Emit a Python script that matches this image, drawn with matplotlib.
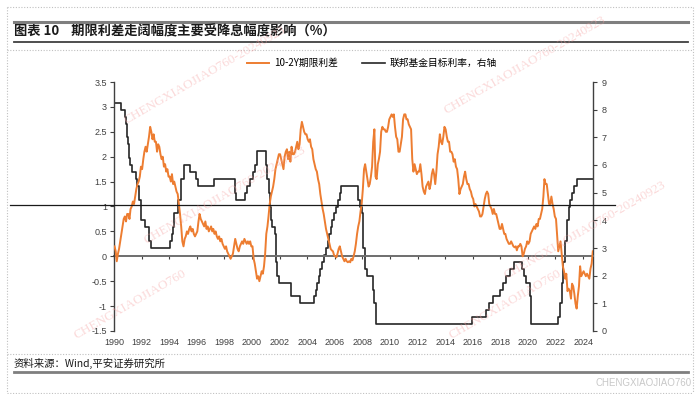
import matplotlib
matplotlib.use("Agg")
import matplotlib.pyplot as plt
from matplotlib.lines import Line2D
import numpy as np
import pandas as pd

plt.rcParams['font.family'] = ['Noto Sans CJK SC', 'DejaVu Sans']

# 10-2Y spread, monthly, Jan 1990 .. Sep 2024
spread = [
    0.20, 0.10, -0.10, 0.05, 0.15, 0.30, 0.45, 0.60, 0.75, 0.80, 0.70, 0.85,   # 1990
    0.85, 0.75, 0.95, 1.00, 1.10, 1.05, 1.20, 1.35, 1.45, 1.50, 1.60, 1.80,   # 1991
    1.75, 1.95, 2.10, 2.20, 2.10, 2.25, 2.40, 2.60, 2.50, 2.35, 2.45, 2.30,   # 1992
    2.30, 2.10, 2.25, 2.20, 2.05, 1.95, 2.00, 1.80, 1.85, 1.70, 1.75, 1.60,   # 1993
    1.60, 1.50, 1.65, 1.45, 1.50, 1.40, 1.30, 1.25, 1.05, 0.85, 0.60, 0.30,   # 1994
    0.20, 0.35, 0.40, 0.50, 0.45, 0.55, 0.60, 0.50, 0.55, 0.45, 0.40, 0.45,   # 1995
    0.50, 0.70, 0.85, 0.75, 0.70, 0.65, 0.60, 0.70, 0.55, 0.60, 0.50, 0.55,   # 1996
    0.60, 0.50, 0.55, 0.45, 0.50, 0.40, 0.35, 0.40, 0.30, 0.35, 0.25, 0.20,   # 1997
    0.15, 0.20, 0.10, 0.05, 0.00, -0.05, 0.00, 0.05, 0.20, 0.35, 0.25, 0.15,  # 1998
    0.10, 0.20, 0.25, 0.30, 0.25, 0.35, 0.30, 0.25, 0.30, 0.25, 0.30, 0.20,   # 1999
    0.20, -0.05, -0.15, -0.30, -0.45, -0.40, -0.50, -0.40, -0.30, -0.35, -0.20, 0.05,  # 2000
    0.45, 0.60, 0.80, 1.05, 1.20, 1.30, 1.40, 1.55, 1.75, 1.85, 1.95, 2.05,   # 2001
    2.05, 1.95, 1.85, 1.75, 2.00, 2.10, 2.15, 1.95, 2.10, 1.90, 2.20, 2.05,   # 2002
    2.05, 2.10, 2.20, 2.30, 2.15, 2.25, 2.55, 2.70, 2.60, 2.50, 2.45, 2.45,   # 2003
    2.35, 2.30, 2.35, 2.20, 2.15, 1.95, 1.85, 1.75, 1.70, 1.55, 1.45, 1.25,   # 2004
    1.10, 0.95, 0.85, 0.70, 0.55, 0.45, 0.35, 0.25, 0.15, 0.12, 0.10, 0.02,   # 2005
    0.00, -0.02, 0.05, 0.15, 0.20, 0.10, 0.00, -0.05, -0.10, -0.05, -0.10, -0.12,  # 2006
    -0.10, -0.12, -0.05, -0.08, 0.00, 0.10, 0.25, 0.45, 0.60, 0.70, 0.90, 1.05,  # 2007
    1.35, 1.75, 1.85, 1.70, 1.55, 1.40, 1.45, 1.60, 1.80, 2.30, 2.55, 1.60,   # 2008
    1.55, 1.85, 1.95, 2.10, 2.50, 2.60, 2.55, 2.55, 2.50, 2.50, 2.60, 2.75,   # 2009
    2.80, 2.85, 2.80, 2.85, 2.60, 2.40, 2.35, 2.10, 2.10, 2.25, 2.40, 2.75,   # 2010
    2.85, 2.85, 2.75, 2.75, 2.65, 2.60, 2.55, 1.95, 1.70, 1.85, 1.75, 1.65,   # 2011
    1.70, 1.70, 1.85, 1.65, 1.40, 1.30, 1.25, 1.40, 1.45, 1.50, 1.35, 1.45,   # 2012
    1.65, 1.75, 1.65, 1.45, 1.70, 2.05, 2.20, 2.45, 2.30, 2.25, 2.40, 2.60,   # 2013
    2.55, 2.40, 2.30, 2.30, 2.10, 2.10, 2.05, 1.90, 1.95, 1.80, 1.75, 1.55,   # 2014
    1.25, 1.35, 1.40, 1.45, 1.60, 1.70, 1.55, 1.45, 1.45, 1.35, 1.30, 1.20,   # 2015
    1.15, 1.00, 1.05, 1.00, 0.95, 0.90, 0.80, 0.80, 0.85, 1.00, 1.15, 1.25,   # 2016
    1.30, 1.25, 1.05, 1.00, 0.95, 0.85, 0.95, 0.85, 0.85, 0.75, 0.65, 0.55,   # 2017
    0.55, 0.65, 0.55, 0.45, 0.45, 0.35, 0.30, 0.25, 0.25, 0.30, 0.25, 0.20,   # 2018
    0.18, 0.20, 0.12, 0.20, 0.20, 0.25, 0.20, 0.00, 0.05, 0.15, 0.20, 0.30,   # 2019
    0.25, 0.30, 0.45, 0.50, 0.55, 0.60, 0.55, 0.65, 0.60, 0.75, 0.75, 0.85,   # 2020
    0.95, 1.20, 1.55, 1.45, 1.45, 1.25, 1.05, 1.05, 1.20, 1.05, 0.95, 0.80,   # 2021
    0.75, 0.40, 0.10, 0.20, 0.30, 0.05, -0.20, -0.30, -0.45, -0.35, -0.70, -0.65,  # 2022
    -0.70, -0.85, -0.55, -0.60, -0.75, -0.95, -1.05, -0.80, -0.60, -0.20, -0.40, -0.35,  # 2023
    -0.30, -0.35, -0.40, -0.35, -0.40, -0.45, -0.25, -0.15, 0.10,             # 2024
]

# Fed funds target rate (upper bound), change dates and levels
fed_dates = [
    '1990-01-01', '1990-07-13', '1990-10-29', '1990-11-13', '1990-12-07', '1990-12-19',
    '1991-01-09', '1991-02-01', '1991-03-08', '1991-04-30', '1991-08-06', '1991-09-13',
    '1991-10-31', '1991-11-06', '1991-12-06', '1991-12-20', '1992-04-09', '1992-07-02',
    '1992-09-04', '1994-02-04', '1994-03-22', '1994-04-18', '1994-05-17', '1994-08-16',
    '1994-11-15', '1995-02-01', '1995-07-06', '1995-12-19', '1996-01-31', '1997-03-25',
    '1998-09-29', '1998-10-15', '1998-11-17', '1999-06-30', '1999-08-24', '1999-11-16',
    '2000-02-02', '2000-03-21', '2000-05-16', '2001-01-03', '2001-01-31', '2001-03-20',
    '2001-04-18', '2001-05-15', '2001-06-27', '2001-08-21', '2001-09-17', '2001-10-02',
    '2001-11-06', '2001-12-11', '2002-11-06', '2003-06-25', '2004-06-30', '2004-08-10',
    '2004-09-21', '2004-11-10', '2004-12-14', '2005-02-02', '2005-03-22', '2005-05-03',
    '2005-06-30', '2005-08-09', '2005-09-20', '2005-11-01', '2005-12-13', '2006-01-31',
    '2006-03-28', '2006-05-10', '2006-06-29', '2007-09-18', '2007-10-31', '2007-12-11',
    '2008-01-22', '2008-01-30', '2008-03-18', '2008-04-30', '2008-10-08', '2008-10-29',
    '2008-12-16', '2015-12-17', '2016-12-15', '2017-03-16', '2017-06-15', '2017-12-14',
    '2018-03-22', '2018-06-14', '2018-09-27', '2018-12-20', '2019-08-01', '2019-09-19',
    '2019-10-31', '2020-03-04', '2020-03-16', '2022-03-17', '2022-05-05', '2022-06-16',
    '2022-07-28', '2022-09-22', '2022-11-03', '2022-12-15', '2023-02-02', '2023-03-23',
    '2023-05-04', '2023-07-27', '2024-09-18',
]
fed_rate = [
    8.25, 8.0, 7.75, 7.5, 7.25, 7.0,
    6.75, 6.25, 6.0, 5.75, 5.5, 5.25,
    5.0, 4.75, 4.5, 4.0, 3.75, 3.25,
    3.0, 3.25, 3.5, 3.75, 4.25, 4.75,
    5.5, 6.0, 5.75, 5.5, 5.25, 5.5,
    5.25, 5.0, 4.75, 5.0, 5.25, 5.5,
    5.75, 6.0, 6.5, 6.0, 5.5, 5.0,
    4.5, 4.0, 3.75, 3.5, 3.0, 2.5,
    2.0, 1.75, 1.25, 1.0, 1.25, 1.5,
    1.75, 2.0, 2.25, 2.5, 2.75, 3.0,
    3.25, 3.5, 3.75, 4.0, 4.25, 4.5,
    4.75, 5.0, 5.25, 4.75, 4.5, 4.25,
    3.5, 3.0, 2.25, 2.0, 1.5, 1.0,
    0.25, 0.5, 0.75, 1.0, 1.25, 1.5,
    1.75, 2.0, 2.25, 2.5, 2.25, 2.0,
    1.75, 1.25, 0.25, 0.5, 1.0, 1.75,
    2.5, 3.25, 4.0, 4.5, 4.75, 5.0,
    5.25, 5.5, 5.5,
]

year_ticks = list(range(1990, 2025, 2))
left_ticks = [-1.5, -1, -0.5, 0, 0.5, 1, 1.5, 2, 2.5, 3, 3.5]
right_ticks = list(range(0, 10))
ref_level = 1.03  # hand-drawn guide line


def to_year(dates):
    d = pd.to_datetime(pd.Series(dates))
    return (d.dt.year + (d.dt.dayofyear - 1) / 365.25).to_numpy()


spread_x = to_year(pd.date_range('1990-01-01', periods=len(spread), freq='MS') + pd.Timedelta(days=14))
fed_x = to_year(fed_dates)

orange = '#ED7D31'
dark = '#262626'

fig = plt.figure(figsize=(7, 3.94), dpi=100)
ax = fig.add_axes([114 / 700, 1 - 331 / 394, 479 / 700, 249 / 394])
ax2 = ax.twinx()

l1, = ax.plot(spread_x, spread, color=orange, lw=1.4, label='10-2Y期限利差', zorder=3)
l2, = ax2.plot(fed_x, fed_rate, color=dark, lw=1.2, drawstyle='steps-post', label='联邦基金目标利率，右轴', zorder=2)
ax.set_zorder(ax2.get_zorder() + 1)
ax.patch.set_visible(False)

ax.set_xlim(1990, 2024.72)
ax.set_ylim(-1.5, 3.5)
ax2.set_ylim(0, 9)

tick_font = dict(family=['Liberation Sans Narrow', 'Liberation Sans', 'DejaVu Sans'], size=6.5)
ax.set_yticks(left_ticks)
ax.set_yticklabels(['%g' % v for v in left_ticks], **tick_font, color='#404040')
ax2.set_yticks(right_ticks)
ax2.set_yticklabels([str(v) for v in right_ticks], **tick_font, color='#404040')
ax.set_xticks(year_ticks)
ax.set_xticklabels([str(y) for y in year_ticks], **tick_font, color='#404040')
ax.tick_params(axis='x', length=0, pad=5)
ax.tick_params(axis='y', length=3, width=0.8, color='#404040', pad=2)
ax2.tick_params(axis='y', length=3, width=0.8, color='#404040', pad=3)

for a in (ax, ax2):
    a.spines['top'].set_visible(False)
    a.spines['bottom'].set_visible(False)
ax.spines['right'].set_visible(False)
ax.spines['left'].set_color('#404040')
ax2.spines['left'].set_visible(False)
ax2.spines['right'].set_color('#404040')
ax.spines['left'].set_linewidth(1)
ax2.spines['right'].set_linewidth(1)

# zero line with year ticks
zero_pos = (0 - (-1.5)) / 5.0
sec = ax.secondary_xaxis(zero_pos)
sec.set_xticks(year_ticks)
sec.set_xticklabels([])
sec.tick_params(length=2.5, width=0.8, color='#404040', direction='out')
sec.spines['bottom'].set_color('#6e6e6e')
sec.spines['bottom'].set_linewidth(1.4)

# guide line
ax.axhline(ref_level, xmin=(10 - 114) / 479, xmax=(615 - 114) / 479, color='#1a1a1a', lw=0.9, clip_on=False, zorder=4)

ax.legend(handles=[l1, l2], loc='center', bbox_to_anchor=(372 / 700, 1 - 63 / 394),
          bbox_transform=fig.transFigure, ncol=2, frameon=False, fontsize=7,
          handlelength=2.3, columnspacing=2.5, handletextpad=0.5)

# title block and frame lines
fig.text(14 / 700, 1 - 31 / 394, '图表 10    期限利差走阔幅度主要受降息幅度影响（%）',
         fontsize=9.5, fontweight='bold', va='center', ha='left', color='#1a1a1a')
fig.text(14 / 700, 1 - 363 / 394, '资料来源：Wind,平安证券研究所', fontsize=7.5,
         style='italic', va='center', ha='left', color='#1a1a1a')
fig.text(692 / 700, 1 - 383 / 394, 'CHENGXIAOJIAO760', fontsize=7, va='center', ha='right',
         color='#c8c8c8', family=['Liberation Sans Narrow', 'Liberation Sans'])


def hline(y, x0, x1, **kw):
    fig.add_artist(Line2D([x0 / 700, x1 / 700], [1 - y / 394, 1 - y / 394], transform=fig.transFigure, **kw))


def vline(x, y0, y1, **kw):
    fig.add_artist(Line2D([x / 700, x / 700], [1 - y0 / 394, 1 - y1 / 394], transform=fig.transFigure, **kw))


hline(22, 14, 688, color='#7f7f7f', lw=2.2)
hline(42, 14, 688, color='#404040', lw=1.3)
hline(372, 14, 688, color='#7f7f7f', lw=2.0)
dot = dict(color='#c0c0c0', lw=0.8, ls=(0, (1, 1.5)))
hline(7, 7, 693, **dot)
hline(50, 7, 693, **dot)
hline(354, 7, 693, **dot)
hline(393, 7, 693, **dot)
vline(7, 7, 393, **dot)
vline(693, 7, 393, **dot)

# watermarks
wm = dict(color='#f5a0a0', alpha=0.4, fontsize=9.5, rotation=30, ha='center', va='center',
          family=['Liberation Serif', 'DejaVu Serif'])
for (x, y, s) in [(205, 75, 'CHENGXIAOJIAO760-20240923'), (225, 195, 'CHENGXIAOJIAO760-20240923'),
                  (130, 305, 'CHENGXIAOJIAO760'), (525, 65, 'CHENGXIAOJIAO760-20240923'),
                  (585, 230, 'CHENGXIAOJIAO760-20240923'), (505, 305, 'CHENGXIAOJIAO760')]:
    fig.text(x / 700, 1 - y / 394, s, **wm)

fig.savefig('out.png', dpi=100)
